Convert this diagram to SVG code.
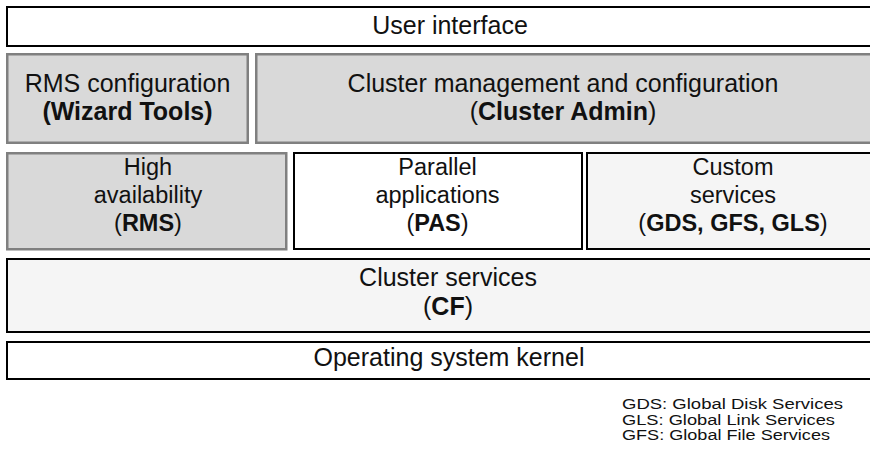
<svg xmlns="http://www.w3.org/2000/svg" width="870" height="457" viewBox="0 0 870 457">
<style>
.blk{stroke:#000;stroke-width:2;}
.gry{stroke:#808080;stroke-width:2.5;fill:#d9d9d9;}
.wht{fill:#fff;}
.lt{fill:#f5f5f5;}
text{font-family:"Liberation Sans",Arial,sans-serif;font-size:25px;fill:#111;text-anchor:middle;}
.r3{font-size:23.5px;}
.b{font-weight:bold;}
.foot{font-size:15.5px;text-anchor:start;}
</style>
<rect width="870" height="457" fill="#fff"/>
<g id="user-interface">
<rect class="blk wht" x="7" y="7" width="890" height="39"/>
<text x="450" y="34">User interface</text>
</g>
<g id="rms-config">
<rect class="gry" x="7.25" y="54.25" width="240.5" height="88.5"/>
<text x="127.5" y="92">RMS configuration</text>
<text x="127.5" y="120" class="b">(Wizard Tools)</text>
</g>
<g id="cluster-mgmt">
<rect class="gry" x="256.25" y="54.25" width="640" height="88.5"/>
<text x="563" y="92">Cluster management and configuration</text>
<text x="563" y="120">(<tspan class="b">Cluster Admin</tspan>)</text>
</g>
<g id="high-availability">
<rect class="gry" x="7.25" y="153.25" width="279" height="96"/>
<text class="r3" x="148" y="175">High</text>
<text class="r3" x="148" y="203">availability</text>
<text class="r3" x="148" y="231">(<tspan class="b">RMS</tspan>)</text>
</g>
<g id="parallel-apps">
<rect class="blk wht" x="294" y="153" width="288" height="96"/>
<text class="r3" x="437.5" y="175">Parallel</text>
<text class="r3" x="437.5" y="203">applications</text>
<text class="r3" x="437.5" y="231">(<tspan class="b">PAS</tspan>)</text>
</g>
<g id="custom-services">
<rect class="blk lt" x="587" y="153" width="310" height="96"/>
<text class="r3" x="733" y="175">Custom</text>
<text class="r3" x="733" y="203">services</text>
<text class="r3" x="733" y="231">(<tspan class="b">GDS, GFS, GLS</tspan>)</text>
</g>
<g id="cluster-services">
<rect class="blk lt" x="7" y="259" width="890" height="73"/>
<text x="448" y="286">Cluster services</text>
<text x="448" y="314.5">(<tspan class="b">CF</tspan>)</text>
</g>
<g id="os-kernel">
<rect class="blk wht" x="7" y="342" width="890" height="37"/>
<text x="449" y="366">Operating system kernel</text>
</g>
<g id="connectors"></g>
<g id="legend">
<text class="foot" x="622" y="409" textLength="221" lengthAdjust="spacingAndGlyphs">GDS: Global Disk Services</text>
<text class="foot" x="622" y="424.5" textLength="213" lengthAdjust="spacingAndGlyphs">GLS: Global Link Services</text>
<text class="foot" x="622" y="440" textLength="208" lengthAdjust="spacingAndGlyphs">GFS: Global File Services</text>
</g>
</svg>
